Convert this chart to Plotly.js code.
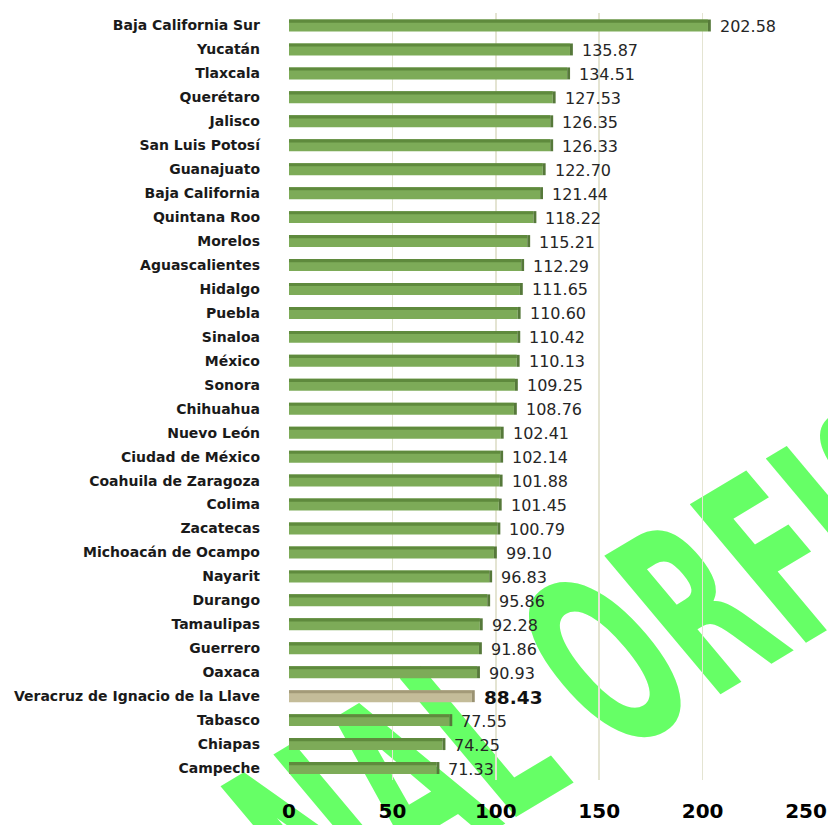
<!DOCTYPE html>
<html>
<head>
<meta charset="utf-8">
<script src="https://cdn.plot.ly/plotly-3.0.1.min.js"></script>
<style>
  html, body { margin: 0; padding: 0; background: #ffffff; overflow: hidden; }
  #wrap { position: relative; width: 828px; height: 825px; overflow: hidden; background: #ffffff; }
  #chart { position: absolute; left: 0; top: 0; width: 828px; height: 825px; z-index: 1; }
  #watermark {
    position: absolute; z-index: 0; white-space: nowrap; line-height: 1;
    font-family: "DejaVu Sans", sans-serif; font-weight: bold; color: #66ff66;
    transform-origin: 50% 50%;
  }
</style>
</head>
<body>
<div id="wrap">
  <div id="watermark"></div>
  <div id="chart"></div>
</div>
<script>
// ---- data (top to bottom as shown) ----
const states = [
  "Baja California Sur", "Yucatán", "Tlaxcala", "Querétaro", "Jalisco",
  "San Luis Potosí", "Guanajuato", "Baja California", "Quintana Roo", "Morelos",
  "Aguascalientes", "Hidalgo", "Puebla", "Sinaloa", "México",
  "Sonora", "Chihuahua", "Nuevo León", "Ciudad de México", "Coahuila de Zaragoza",
  "Colima", "Zacatecas", "Michoacán de Ocampo", "Nayarit", "Durango",
  "Tamaulipas", "Guerrero", "Oaxaca", "Veracruz de Ignacio de la Llave", "Tabasco",
  "Chiapas", "Campeche"
];
const values = [
  202.58, 135.87, 134.51, 127.53, 126.35,
  126.33, 122.70, 121.44, 118.22, 115.21,
  112.29, 111.65, 110.60, 110.42, 110.13,
  109.25, 108.76, 102.41, 102.14, 101.88,
  101.45, 100.79, 99.10, 96.83, 95.86,
  92.28, 91.86, 90.93, 88.43, 77.55,
  74.25, 71.33
];
const highlightState = "Veracruz de Ignacio de la Llave";
const xTicks = [0, 50, 100, 150, 200, 250];
const watermarkText = "NAL ORFIS";

// ---- watermark (behind the transparent chart) ----
const wm = document.getElementById("watermark");
wm.textContent = watermarkText;
wm.style.fontSize = "245px";
wm.style.left = "605px";
wm.style.top = "665px";
wm.style.transform = "translate(-50%,-50%) rotate(-31deg) skewX(9deg) scaleX(0.53)";

// ---- styles ----
const frontGreen = "#7dab58", topGreen = "#5f8a3d", sideGreen = "#56793a";
const frontTan = "#c4bc99", topTan = "#a39a78", sideTan = "#9a9272";
const sideDepth = 1.4;

const isHi = states.map(s => s === highlightState);

const front = {
  type: "bar", orientation: "h", y: states, x: values,
  width: 0.5, offset: -0.25,
  marker: { color: isHi.map(h => h ? frontTan : frontGreen), line: { width: 0 } },
  hoverinfo: "x+y", showlegend: false
};
const topFace = {
  type: "bar", orientation: "h", y: states, x: values,
  width: 0.13, offset: -0.25,
  marker: { color: isHi.map(h => h ? topTan : topGreen), line: { width: 0 } },
  hoverinfo: "skip", showlegend: false
};
const sideFace = {
  type: "bar", orientation: "h", y: states, base: values,
  x: values.map(() => sideDepth),
  width: 0.5, offset: -0.25,
  marker: { color: isHi.map(h => h ? sideTan : sideGreen), line: { width: 0 } },
  hoverinfo: "skip", showlegend: false
};

const valueLabels = states.map((s, i) => ({
  x: values[i] + sideDepth, y: s, xref: "x", yref: "y",
  text: values[i].toFixed(2),
  showarrow: false, xanchor: "left", yanchor: "middle", xshift: 7, yshift: -1,
  font: isHi[i]
    ? { family: "DejaVu Sans, sans-serif", size: 18.5, color: "#111111", weight: "bold" }
    : { family: "DejaVu Sans, sans-serif", size: 16, color: "#262626" }
}));

const layout = {
  width: 828, height: 825,
  margin: { l: 289, r: 22, t: 13, b: 45 },
  paper_bgcolor: "rgba(0,0,0,0)", plot_bgcolor: "rgba(0,0,0,0)",
  barmode: "overlay",
  xaxis: {
    range: [0, 250], tickvals: xTicks, ticktext: xTicks.map(String),
    showgrid: true, gridcolor: "#e4e4d2", gridwidth: 1.5,
    zeroline: false, showline: false, ticks: "",
    ticklabelstandoff: 17, ticklabeloverflow: "allow",
    tickfont: { family: "DejaVu Sans, sans-serif", size: 20, color: "#000000", weight: "bold" },
    fixedrange: true
  },
  yaxis: {
    type: "category", autorange: "reversed",
    showgrid: false, zeroline: false, showline: false, ticks: "",
    ticklabelstandoff: 28,
    tickfont: { family: "DejaVu Sans, sans-serif", size: 14, color: "#1a1a1a", weight: "bold" },
    fixedrange: true
  },
  annotations: valueLabels
};

Plotly.newPlot("chart", [front, topFace, sideFace], layout, { displayModeBar: false, staticPlot: true });
</script>
</body>
</html>
